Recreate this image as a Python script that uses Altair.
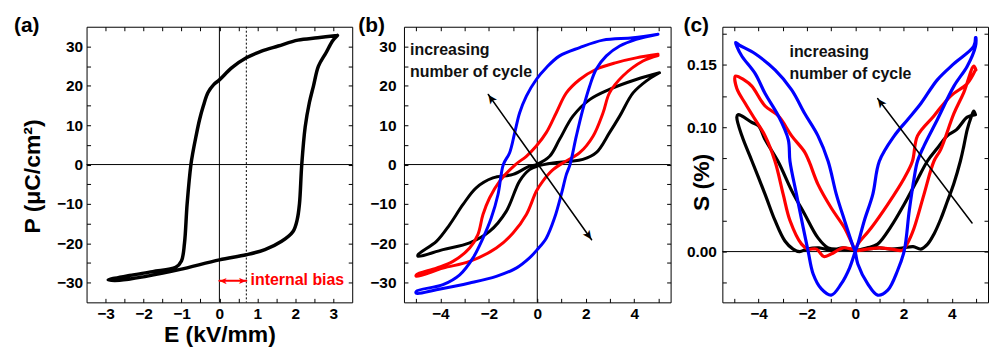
import altair as alt
import pandas as pd

F = "Liberation Sans"

# ---------------- Panel (a): P-E loop ----------------
a_E = [3.11, 2.59, 2.07, 1.55, 1.11, 0.71, 0.33, 0.00, -0.15, -0.30, -0.42, -0.52, -0.62, -0.70, -0.75,
       -0.85, -0.92, -1.00, -1.15, -1.76, -2.37, -2.93, -2.63, -1.93, -1.06, 0.00, 0.71,
       1.20, 1.64, 1.94, 2.05, 2.11, 2.17, 2.26, 2.37, 2.48, 2.61, 2.81, 2.98, 3.11]
a_P = [32.8, 32.2, 31.6, 30.1, 28.8, 27.1, 24.6, 21.5, 20.3, 18.3, 15.0, 11.5, 7.0, 3.0, 0.0,
       -10.0, -20.0, -24.5, -26.1, -27.2, -28.2, -29.3, -29.4, -28.4, -26.7, -24.2, -22.9,
       -21.6, -19.5, -17.0, -14.0, -10.0, 0.0, 9.5, 15.7, 20.0, 25.0, 28.4, 31.4, 32.8]
a_bias = 0.71
a_bias_arrow_E = [0.0, 0.71]
a_bias_arrow_P = [-29.5, -29.5]
a_bias_label = "internal bias"
a_bias_label_pos = [0.82, -29.4]

# ---------------- Panel (b): P-E loops vs cycles ----------------
b_black_E = [5.04, 4.08, 2.98, 2.16, 1.47, 0.92, 0.51, -0.04, -0.32, -1.0, -1.83, -2.52, -3.07,
             -3.62, -4.16, -4.92, -4.92, -3.89, -2.79, -1.97, -1.28, -0.73, -0.32, 0.0, 0.65,
             1.33, 1.88, 2.43, 2.98, 3.40, 3.95, 4.49, 5.04]
b_black_P = [23.3, 21.6, 19.1, 16.5, 12.3, 6.4, 2.1, 0.0, -0.4, -2.5, -3.4, -5.9, -10.2,
             -15.3, -19.5, -22.9, -23.3, -21.6, -19.9, -17.0, -11.9, -4.2, -1.3, -0.4, 0.4,
             0.8, 1.3, 3.0, 8.1, 12.3, 18.2, 21.2, 23.3]
b_red_E = [4.98, 4.08, 3.26, 2.43, 1.75, 1.20, 0.78, 0.37, -0.04, -0.45, -0.9, -1.55, -1.97,
           -2.24, -2.45, -2.79, -3.48, -4.16, -4.99, -4.99, -3.89, -2.79, -1.69, -1.00, -0.45,
           -0.04, 0.23, 0.65, 1.10, 1.75, 2.30, 2.71, 2.98, 3.53, 4.36, 4.98]
b_red_P = [28.0, 27.1, 25.9, 24.2, 21.6, 18.2, 13.1, 8.1, 4.7, 2.1, 0.0, -4.2, -8.5,
           -12.7, -17.8, -21.2, -24.6, -26.3, -28.0, -28.4, -26.3, -24.6, -21.2, -17.4, -12.7,
           -6.8, -4.2, -1.3, 0.6, 3.0, 7.2, 13.1, 18.2, 22.5, 26.3, 27.7]
b_blue_E = [4.98, 3.95, 2.71, 1.75, 0.92, 0.37, -0.04, -0.45, -0.73, -0.93, -1.14, -1.40, -1.62,
            -1.90, -2.24, -2.65, -3.20, -3.89, -4.99, -4.99, -4.16, -2.79, -1.69, -0.87, -0.32,
            0.0, 0.37, 0.71, 0.99, 1.20, 1.35, 1.61, 1.88, 2.16, 2.43, 2.85, 3.40, 4.08, 4.98]
b_blue_P = [33.1, 32.2, 31.6, 29.7, 27.6, 24.6, 21.6, 17.4, 13.1, 8.1, 3.0, 0.0, -7.6,
            -13.6, -18.7, -23.7, -28.0, -30.5, -32.2, -32.7, -31.8, -30.1, -28.4, -26.3, -23.7,
            -21.6, -18.7, -13.6, -7.6, -2.5, 0.0, 7.2, 14.0, 19.9, 24.2, 27.6, 30.1, 31.8, 33.1]
b_note = ["increasing", "number of cycle"]
b_note_E = [-5.25, -5.25]
b_note_P = [29.2, 23.6]
b_arrow_E = [-2.02, 2.24]
b_arrow_P = [17.8, -19.1]

# ---------------- Panel (c): S-E butterfly loops ----------------
c_black_E = [4.98, 4.64, 4.2, 3.81, 3.4, 3.0, 2.58, 2.03, 1.48, 0.93, 0.5, 0.0,
             -0.5, -1.0, -1.5, -2.0, -2.3, -2.57,
             -2.91, -3.32, -3.73, -4.28, -4.69, -4.90,
             -4.85, -4.69, -4.3, -4.0, -3.73,
             -3.18, -2.63, -2.09, -1.54, -1.12,
             -0.6, 0.0, 0.5, 1.0, 1.5, 2.0, 2.4, 2.72,
             3.0, 3.26, 3.54, 3.81, 4.09, 4.36, 4.5, 4.64, 4.8, 4.91, 4.98]
c_black_S = [0.110, 0.108, 0.098, 0.093, 0.083, 0.073, 0.058, 0.038, 0.020, 0.006, 0.003, 0.001,
             0.003, 0.001, 0.003, 0.002, 0.000, 0.002,
             0.0085, 0.025, 0.046, 0.073, 0.093, 0.108,
             0.110, 0.109, 0.104, 0.101, 0.090,
             0.072, 0.049, 0.030, 0.011, 0.003,
             0.002, 0.001, 0.002, 0.003, 0.002, 0.003, 0.004, 0.002,
             0.006, 0.014, 0.026, 0.040, 0.055, 0.073, 0.085, 0.098, 0.108, 0.113, 0.110]
c_red_E = [4.98, 4.64, 3.95, 3.26, 2.58, 2.37, 2.03, 1.35, 0.66, 0.11, 0.0,
           -0.5, -1.0, -1.3, -1.6, -1.95,
           -2.22, -2.70, -2.98, -3.32, -3.73, -4.14, -4.55, -4.90, -4.96,
           -4.6, -4.28, -3.73, -3.18, -2.63, -2.09, -1.9, -1.54, -0.99, -0.44, -0.10, 0.0,
           0.5, 1.0, 1.5, 1.96,
           2.2, 2.44, 2.85, 3.26, 3.54, 4.09, 4.5, 4.91, 5.0]
c_red_S = [0.146, 0.135, 0.125, 0.109, 0.093, 0.0726, 0.059, 0.038, 0.019, 0.006, 0.002,
           0.003, -0.002, -0.004, 0.002, 0.002,
           0.006, 0.025, 0.046, 0.0726, 0.093, 0.106, 0.119, 0.131, 0.141,
           0.138, 0.133, 0.117, 0.109, 0.093, 0.080, 0.072, 0.054, 0.035, 0.019, 0.005, 0.001,
           0.002, 0.003, 0.002, 0.001,
           0.008, 0.019, 0.046, 0.0726, 0.082, 0.111, 0.128, 0.149, 0.146]
c_blue_E = [4.98, 4.91, 4.09, 3.40, 2.72, 2.17, 1.62, 1.0, 0.73, 0.38, 0.11, 0.0,
            -0.23, -0.58, -0.99, -1.40, -1.74, -1.95, -2.15, -2.43, -2.70, -2.77, -3.18, -3.73,
            -4.14, -4.69, -4.90, -4.95, -4.80,
            -4.14, -3.32, -2.63, -2.09, -1.54, -1.12, -0.78, -0.44, -0.10, 0.0,
            0.11, 0.52, 0.93, 1.35, 1.76, 2.03, 2.24, 2.44, 2.58, 2.85, 3.40, 4.09, 4.64, 4.98, 5.0]
c_blue_S = [0.172, 0.165, 0.151, 0.138, 0.119, 0.106, 0.093, 0.0726, 0.046, 0.025, 0.006, 0.0,
            -0.013, -0.026, -0.035, -0.030, -0.018, 0.0005, 0.019, 0.046, 0.0726, 0.090, 0.109, 0.127,
            0.143, 0.157, 0.165, 0.168, 0.166,
            0.159, 0.146, 0.130, 0.111, 0.093, 0.0726, 0.046, 0.025, 0.005, 0.0,
            -0.010, -0.026, -0.035, -0.031, -0.015, 0.0005, 0.033, 0.059, 0.0726, 0.085, 0.106, 0.133, 0.149, 0.165, 0.172]
c_note = ["increasing", "number of cycle"]
c_note_E = [-2.72, -2.72]
c_note_S = [0.160, 0.143]
c_arrow_E = [4.84, 0.93]
c_arrow_S = [0.023, 0.123]

BLACK, RED, BLUE = "#000000", "#ff0000", "#0000ff"
ONE = pd.DataFrame({"k": [0]})
HEAD = "\u27a4"


def axis(orient, values, label_expr=None, title=None, pad=3, **extra):
    kw = dict(orient=orient, values=values, domain=False, grid=False, ticks=True,
              tickSize=4, offset=-4, tickColor="black", tickWidth=1, title=title)
    if label_expr is None:
        kw["labels"] = False
    else:
        kw.update(labels=True, labelExpr=label_expr, labelFont=F, labelFontSize=15.5,
                  labelFontWeight="bold", labelColor="black", labelPadding=pad,
                  labelOverlap=False, labelFlush=False)
    kw.update(titleFont=F, titleFontSize=23, titleFontWeight="bold", titleColor="black")
    kw.update(extra)
    return alt.Axis(**kw)


def line(xs, ys, color, width, xs_, ys_, xa=None, ya=None, smooth=True):
    df = pd.DataFrame({"x": xs, "y": ys, "i": list(range(len(xs)))})
    kw = dict(color=color, strokeWidth=width, strokeJoin="round", strokeCap="round")
    if smooth:
        kw["interpolate"] = "catmull-rom"
    return alt.Chart(df).mark_line(**kw).encode(
        x=alt.X("x:Q", scale=xs_, axis=xa), y=alt.Y("y:Q", scale=ys_, axis=ya),
        order="i:Q")


def head(x, y, angle, color, size, xs_, ys_):
    df = pd.DataFrame({"x": [x], "y": [y]})
    return alt.Chart(df).mark_text(text=HEAD, font="DejaVu Sans", fontSize=size,
                                   align="right", baseline="middle", angle=angle,
                                   color=color).encode(
        x=alt.X("x:Q", scale=xs_, axis=None), y=alt.Y("y:Q", scale=ys_, axis=None))


def note(lines, xs, ys, color, size, xs_, ys_):
    df = pd.DataFrame({"t": lines, "x": xs, "y": ys})
    return alt.Chart(df).mark_text(align="left", baseline="middle", font=F, fontSize=size,
                                   fontWeight="bold", color=color).encode(
        x=alt.X("x:Q", scale=xs_, axis=None), y=alt.Y("y:Q", scale=ys_, axis=None),
        text="t:N")


def tag(label, dx):
    return alt.Chart(ONE).mark_text(text=label, align="left", baseline="top", font=F,
                                    fontSize=21, fontWeight="bold", color="black").encode(
        x=alt.value(dx), y=alt.value(-12))


def hrule(ys_, ya):
    return alt.Chart(ONE).mark_rule(color="black", strokeWidth=1).encode(
        y=alt.Y(datum=0, scale=ys_, axis=ya))


def vrule(xs_, xa, at=0, dash=None):
    kw = dict(color="black", strokeWidth=1)
    if dash:
        kw["strokeDash"] = dash
    return alt.Chart(ONE).mark_rule(**kw).encode(x=alt.X(datum=at, scale=xs_, axis=xa))


INT = "datum.value % 1 == 0 ? format(datum.value, 'd') : ''"

# ----- panel a -----
xa_s = alt.Scale(domain=[-3.5, 3.5], nice=False, zero=False)
ya_s = alt.Scale(domain=[-35, 35], nice=False, zero=False)
xa_vals = [v / 2 for v in range(-6, 7)]
ya_vals = list(range(-30, 31, 5))
pa = alt.layer(
    hrule(ya_s, axis("right", ya_vals)),
    vrule(xa_s, axis("top", xa_vals)),
    vrule(xa_s, None, at=a_bias, dash=[2, 2]),
    line(a_E, a_P, BLACK, 3.5, xa_s, ya_s,
         xa=axis("bottom", xa_vals, INT, title="E (kV/mm)", pad=4, titlePadding=2),
         ya=axis("left", ya_vals, "datum.value % 10 == 0 ? datum.label : ''",
                 title="P (\u03bcC/cm\u00b2)", pad=4, titleX=-46, titleY=150)),
    line(a_bias_arrow_E, a_bias_arrow_P, RED, 2, xa_s, ya_s, smooth=False),
    head(a_bias_arrow_E[0], a_bias_arrow_P[0], 180, RED, 10, xa_s, ya_s),
    head(a_bias_arrow_E[1], a_bias_arrow_P[1], 0, RED, 10, xa_s, ya_s),
    note([a_bias_label], [a_bias_label_pos[0]], [a_bias_label_pos[1]], RED, 16, xa_s, ya_s),
    tag("(a)", -73),
).properties(width=267, height=277).resolve_axis(x="independent", y="independent")

# ----- panel b -----
xb_s = alt.Scale(domain=[-5.5, 5.5], nice=False, zero=False)
yb_s = alt.Scale(domain=[-35, 35], nice=False, zero=False)
xb_vals = list(range(-5, 6))
pb = alt.layer(
    hrule(yb_s, axis("right", ya_vals)),
    vrule(xb_s, axis("top", xb_vals)),
    line(b_black_E, b_black_P, BLACK, 3, xb_s, yb_s,
         xa=axis("bottom", xb_vals, "datum.value % 2 == 0 ? datum.label : ''", pad=4),
         ya=axis("left", ya_vals, "datum.value % 10 == 0 ? datum.label : ''", pad=8)),
    line(b_red_E, b_red_P, RED, 3, xb_s, yb_s),
    line(b_blue_E, b_blue_P, BLUE, 3, xb_s, yb_s),
    line(b_arrow_E, b_arrow_P, BLACK, 1.5, xb_s, yb_s, smooth=False),
    head(b_arrow_E[0], b_arrow_P[0], 234.5, BLACK, 13, xb_s, yb_s),
    head(b_arrow_E[1], b_arrow_P[1], 54.5, BLACK, 13, xb_s, yb_s),
    note(b_note, b_note_E, b_note_P, "#111111", 16, xb_s, yb_s),
    tag("(b)", -46),
).properties(width=268, height=277).resolve_axis(x="independent", y="independent")

# ----- panel c -----
xc_s = alt.Scale(domain=[-5.5, 5.5], nice=False, zero=False)
yc_s = alt.Scale(domain=[-0.0408, 0.1807], nice=False, zero=False)
yc_vals = [k * 0.025 for k in range(-1, 8)]
yc_expr = ("(abs(datum.value) < 1e-6 || abs(datum.value - 0.1) < 1e-6 || "
           "abs(datum.value - 0.15) < 1e-6) ? format(datum.value, '.2f') : ''")
pc = alt.layer(
    hrule(yc_s, axis("right", yc_vals)),
    line(c_black_E, c_black_S, BLACK, 3.2, xc_s, yc_s,
         xa=axis("bottom", xb_vals, "datum.value % 2 == 0 ? datum.label : ''", pad=4),
         ya=axis("left", yc_vals, yc_expr, title="S (%)", pad=6, titleX=-13, titleY=156)),
    line(c_red_E, c_red_S, RED, 3.2, xc_s, yc_s),
    line(c_blue_E, c_blue_S, BLUE, 3.2, xc_s, yc_s),
    line(c_arrow_E, c_arrow_S, BLACK, 1.5, xc_s, yc_s, xa=axis("top", xb_vals), smooth=False),
    head(c_arrow_E[1], c_arrow_S[1], 232.8, BLACK, 13, xc_s, yc_s),
    note(c_note, c_note_E, c_note_S, "#111111", 16, xc_s, yc_s),
    tag("(c)", -39),
).properties(width=267, height=277).resolve_axis(x="independent", y="independent")

chart = alt.hconcat(pa, alt.hconcat(pb, pc, spacing=11), spacing=4).properties(
    padding={"left": 13, "top": 13, "right": 0, "bottom": 0},
    background="white",
).configure_view(stroke="black", strokeWidth=1)

chart.save("out.html", embed_options={"renderer": "svg", "actions": False})
